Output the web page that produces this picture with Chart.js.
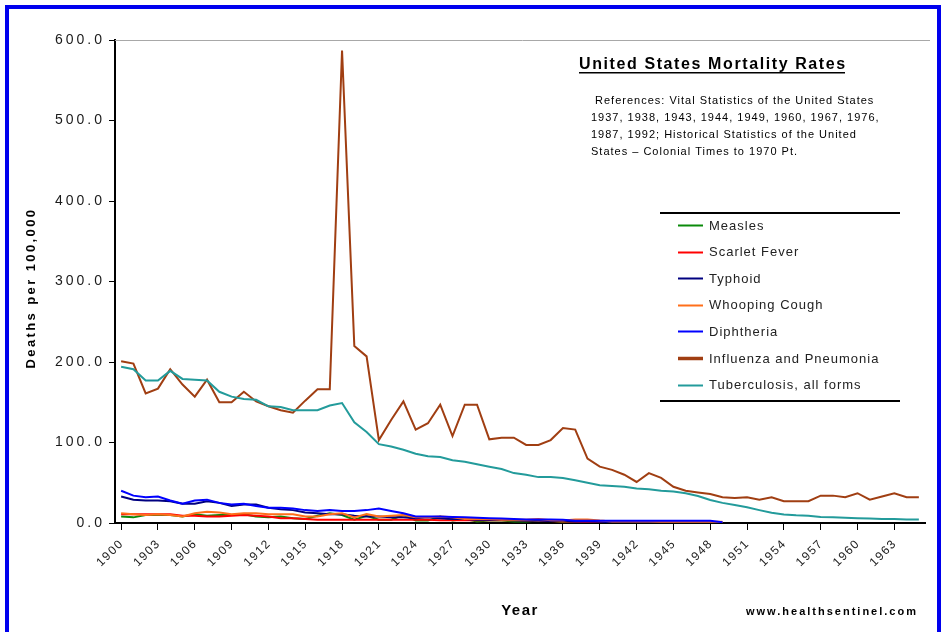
<!DOCTYPE html>
<html>
<head>
<meta charset="utf-8">
<script src="https://cdn.jsdelivr.net/npm/chart.js@4.4.0/dist/chart.umd.min.js"></script>
<style>
html,body{margin:0;padding:0;background:#fff;overflow:hidden}
canvas{display:block}
</style>
</head>
<body>
<canvas id="c" width="947" height="632"></canvas>
<script>
// ---- categories ----
const years = [
 '1900','1901','1902','1903','1904','1905','1906','1907','1908','1909',
 '1910','1911','1912','1913','1914','1915','1916','1917','1918','1919',
 '1920','1921','1922','1923','1924','1925','1926','1927','1928','1929',
 '1930','1931','1932','1933','1934','1935','1936','1937','1938','1939',
 '1940','1941','1942','1943','1944','1945','1946','1947','1948','1949',
 '1950','1951','1952','1953','1954','1955','1956','1957','1958','1959',
 '1960','1961','1962','1963','1964','1965'];

// ---- tick labels ----
const xTickLabels = ['1900','1903','1906','1909','1912','1915','1918','1921','1924','1927','1930',
 '1933','1936','1939','1942','1945','1948','1951','1954','1957','1960','1963'];
const yTickValues = [0,100,200,300,400,500,600];
const yTickLabels = ['0.0','100.0','200.0','300.0','400.0','500.0','600.0'];

// ---- series (deaths per 100,000) ----
const measles = [
 8,7,10,10,10,8,11,9,10,10,
 11,8,7,8,6,5,9,12,10,4,
 9,4,4,10,3,3,8,3,5,2,
 3,3,2,2,3,3,1,2,1,1,
 0.5,1.5,0.5,1,0.5,0.2,0.5,0.2,0.5,0.3,
 null,null,null,null,null,null,null,null,null,null,null,null,null,null,null,null];
const scarletFever = [
 11,11,11,11,11,9,9,8,8,9,
 10,9,8,6,6,5,4,4,4,4,
 4,4,4,4,4,4,3.5,3.5,3.5,3.5,
 3.5,3.5,3.5,3,3,2.5,2,1.5,1,0.8,
 0.5,0.4,0.3,0.3,0.2,0.2,0.1,0.1,0.1,0.1,
 null,null,null,null,null,null,null,null,null,null,null,null,null,null,null,null];
const typhoid = [
 33,29,28,28,27,24,24,27,25,21,
 23,23,19,17,16,13,12,11,11,9,
 8,8,7,7,6,7,6,5,5,4,
 4,4,3.5,3,3,2.5,2.5,2,2,1.5,
 1,1,0.8,0.6,0.5,0.4,0.3,0.2,0.2,0.1,
 null,null,null,null,null,null,null,null,null,null,null,null,null,null,null,null];
const whoopingCough = [
 12,11,10,11,10,8,12,14,13,11,
 12,12,11,11,11,8,8,11,12,7,
 11,8,9,10,7,7,8,7,5,5,
 5,4,4,4,5,3.5,3,4.5,4.5,3,
 2,2,2,2,1.5,1.5,1.5,1.5,1.5,1.5,
 null,null,null,null,null,null,null,null,null,null,null,null,null,null,null,null];
const diphtheria = [
 40,34,32,33,28,24,28,29,25,23,
 24,21,19,19,18,16,15,16,15,15,
 16,18,15,12,8,8,8,7.5,7,6.5,
 6,5.5,5,4.5,4.5,4.5,4,2.8,2.8,2.8,
 2.8,2.8,2.8,2.8,2.8,2.8,2.8,2.8,2.8,1,
 null,null,null,null,null,null,null,null,null,null,null,null,null,null,null,null];
const influenzaPneumonia = [
 201,198,161,167,191,172,157,178,150,150,
 163,151,145,140,137,152,166,166,587,220,
 207,103,128,151,116,124,147,108,147,147,
 104,106,106,97,97,103,118,116,80,70,
 66,60,51,62,56,45,40,38,36,32,
 31,32,29,32,27,27,27,34,34,32,
 37,29,33,37,32,32];
const tuberculosis = [
 194,191,177,177,189,179,178,177,163,157,
 154,153,145,144,140,140,140,146,149,125,
 113,98,95,91,86,83,82,78,76,73,
 70,67,62,60,57,57,56,53,50,47,
 46,45,43,42,40,39,37,33.5,28.6,25,
 22.4,19.5,16,12.8,10.5,9.5,9,7.5,7,6.5,
 6,5.5,5,5,4.5,4.3];

const seriesNames = ['Measles','Scarlet Fever','Typhoid','Whooping Cough','Diphtheria','Influenza and Pneumonia','Tuberculosis, all forms'];
const seriesData = [measles, scarletFever, typhoid, whoopingCough, diphtheria, influenzaPneumonia, tuberculosis];
const seriesColors = ['#0a8a0a','#ff0000','#000080','#ff6f1a','#0000ff','#a03e12','#239b9b'];

const chartTitle = 'United States Mortality Rates';
const referenceLines = [
 ' References: Vital Statistics of the United States',
 '1937, 1938, 1943, 1944, 1949, 1960, 1967, 1976,',
 '1987, 1992; Historical Statistics of the United',
 'States \u2013 Colonial Times to 1970 Pt.'];
const yTitle = 'Deaths per 100,000';
const xTitle = 'Year';
const watermark = 'www.healthsentinel.com';

const FONT = '"Liberation Sans", Arial, Helvetica, sans-serif';

const decor = {
  id: 'decor',
  afterDraw(chart) {
    const ctx = chart.ctx, a = chart.chartArea, sx = chart.scales.x, sy = chart.scales.y;
    ctx.save();
    // plot top border
    ctx.strokeStyle = '#a8a8a8'; ctx.lineWidth = 1;
    ctx.beginPath(); ctx.moveTo(a.left, a.top + 0.5); ctx.lineTo(a.right + 5, a.top + 0.5); ctx.stroke();
    // blue frame
    ctx.strokeStyle = '#0000ee'; ctx.lineWidth = 4;
    ctx.strokeRect(7, 7, 932, 640);

    // y tick labels
    ctx.fillStyle = '#1a1a1a';
    ctx.font = '14px ' + FONT;
    ctx.textAlign = 'right'; ctx.textBaseline = 'middle';
    ctx.letterSpacing = '3px';
    yTickValues.forEach((v, i) => {
      ctx.fillText(yTickLabels[i], 105, sy.getPixelForValue(v));
    });

    // x tick labels (rotated 45)
    ctx.font = '12px ' + FONT;
    ctx.letterSpacing = '1.5px';
    xTickLabels.forEach(lbl => {
      const idx = years.indexOf(lbl);
      const x = sx.getPixelForValue(idx);
      ctx.save();
      ctx.translate(x + 2, 545);
      ctx.rotate(-Math.PI / 4);
      ctx.textAlign = 'right'; ctx.textBaseline = 'alphabetic';
      ctx.fillText(lbl, 1.5, 0);
      ctx.restore();
    });

    // axis titles
    ctx.fillStyle = '#000';
    ctx.font = 'bold 13px ' + FONT;
    ctx.letterSpacing = '2.4px';
    ctx.save();
    ctx.translate(31, 288); ctx.rotate(-Math.PI / 2);
    ctx.textAlign = 'center'; ctx.textBaseline = 'middle';
    ctx.fillText(yTitle, 0, 0);
    ctx.restore();

    ctx.font = 'bold 15px ' + FONT;
    ctx.letterSpacing = '1.5px';
    ctx.textAlign = 'center'; ctx.textBaseline = 'alphabetic';
    ctx.fillText(xTitle, 520, 615);

    ctx.font = 'bold 11px ' + FONT;
    ctx.letterSpacing = '2px';
    ctx.textAlign = 'left';
    ctx.fillText(watermark, 746, 615);

    // annotation
    ctx.font = 'bold 16px ' + FONT;
    ctx.letterSpacing = '1.6px';
    ctx.textAlign = 'left'; ctx.textBaseline = 'alphabetic';
    ctx.fillText(chartTitle, 579, 69);
    ctx.fillRect(579, 72, 266, 1.5);
    ctx.font = '11px ' + FONT;
    ctx.letterSpacing = '1px';
    referenceLines.forEach((t, i) => {
      ctx.fillText(t, 591, 104 + i * 17);
    });

    // legend
    ctx.letterSpacing = '0px';
    ctx.fillStyle = '#000';
    ctx.fillRect(660, 212, 240, 2);
    ctx.fillRect(660, 400, 240, 2);
    ctx.font = '13px ' + FONT;
    ctx.letterSpacing = '1px';
    ctx.textBaseline = 'middle';
    chart.data.datasets.forEach((ds, i) => {
      const y = 225 + i * 26.6;
      ctx.strokeStyle = ds.borderColor;
      ctx.lineWidth = (i === 5) ? 3.5 : 2;
      ctx.beginPath(); ctx.moveTo(678, Math.round(y) + 0.5); ctx.lineTo(703, Math.round(y) + 0.5); ctx.stroke();
      ctx.fillStyle = '#222';
      ctx.fillText(ds.label, 709, y + 1);
    });
    ctx.restore();
  }
};

const datasets = seriesNames.map((name, i) => ({
  label: name,
  data: seriesData[i],
  borderColor: seriesColors[i],
  backgroundColor: seriesColors[i],
  borderWidth: 2,
  pointRadius: 0,
  fill: false,
  tension: 0,
  spanGaps: false,
  order: seriesNames.length - i
}));

new Chart(document.getElementById('c'), {
  type: 'line',
  data: { labels: years, datasets: datasets },
  options: {
    responsive: false,
    animation: false,
    devicePixelRatio: 1,
    layout: { padding: { left: 0, right: 22, top: 40, bottom: 0 } },
    plugins: { legend: { display: false }, tooltip: { enabled: false }, title: { display: false } },
    scales: {
      x: {
        type: 'category',
        offset: true,
        grid: {
          display: true, drawOnChartArea: false, drawTicks: true, tickLength: 7, offset: false,
          color: (c) => (c.index % 3 === 0 ? '#000' : 'rgba(0,0,0,0)'), lineWidth: 1
        },
        border: { display: true, color: '#000', width: 2 },
        ticks: { display: false, autoSkip: false },
        afterFit: (s) => { s.height = 109; }
      },
      y: {
        min: 0, max: 600,
        ticks: { display: false, stepSize: 100 },
        grid: { drawOnChartArea: false, drawTicks: true, tickLength: 6, color: '#000' },
        border: { display: true, color: '#000', width: 2 },
        afterFit: (s) => { s.width = 115; }
      }
    }
  },
  plugins: [decor]
});
</script>
</body>
</html>
